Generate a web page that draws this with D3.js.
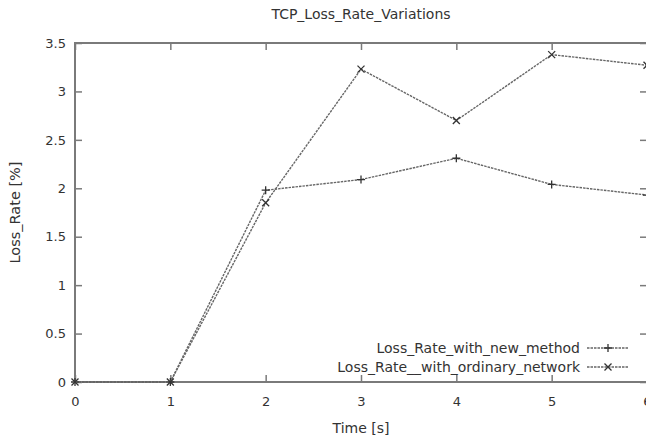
<!DOCTYPE html>
<html>
<head>
<meta charset="utf-8">
<script src="https://cdn.jsdelivr.net/npm/d3@7"></script>
<style>
  body { margin: 0; background: #fff; }
  svg { font-family: "DejaVu Sans", sans-serif; }
</style>
</head>
<body>
<svg id="chart" width="646" height="440"></svg>
<script>
// data
var times = [0, 1, 2, 3, 4, 5, 6]
var newMethod = [0, 0, 1.98, 2.09, 2.31, 2.04, 1.93]
var ordinary = [0, 0, 1.85, 3.23, 2.70, 3.38, 3.27]
var xTicks = [0, 1, 2, 3, 4, 5, 6]
var yTicks = [0, 0.5, 1, 1.5, 2, 2.5, 3, 3.5]
var seriesNames = ["Loss_Rate_with_new_method", "Loss_Rate__with_ordinary_network"]

var svg = d3.select("#chart")
var margin = { top: 43, right: -1, bottom: 58, left: 75 }
var width = 646, height = 440
var grey = "#7a7a7a"

var x = d3.scaleLinear().domain([0, 6]).range([margin.left, width - margin.right])
var y = d3.scaleLinear().domain([0, 3.5]).range([height - margin.bottom, margin.top])

// frame
svg.append("rect")
    .attr("x", x(0)).attr("y", y(3.5))
    .attr("width", x(6) - x(0)).attr("height", y(0) - y(3.5))
    .attr("fill", "none").attr("stroke", grey).attr("stroke-width", 2)

// axes (ticks pointing inward, mirrored on top/right)
var bottom = svg.append("g")
    .attr("transform", `translate(0,${y(0)})`)
    .call(d3.axisBottom(x).tickValues(xTicks).tickSize(-7).tickPadding(15).tickFormat(d3.format("d")))
var left = svg.append("g")
    .attr("transform", `translate(${x(0)},0)`)
    .call(d3.axisLeft(y).tickValues(yTicks).tickSize(-7).tickPadding(9).tickFormat(d => d))
var top_ = svg.append("g")
    .attr("transform", `translate(0,${y(3.5)})`)
    .call(d3.axisTop(x).tickValues(xTicks).tickSize(-7).tickFormat(""))
var right = svg.append("g")
    .attr("transform", `translate(${x(6)},0)`)
    .call(d3.axisRight(y).tickValues(yTicks).tickSize(-7).tickFormat(""))

;[bottom, left, top_, right].forEach(g => {
    g.select(".domain").remove()
    g.selectAll(".tick line").attr("stroke", grey).attr("stroke-width", 1.5)
    g.selectAll(".tick text").attr("fill", "#333").attr("font-size", 13)
        .attr("font-family", "DejaVu Sans, sans-serif")
})

// titles
svg.append("text")
    .attr("x", (x(0) + x(6)) / 2).attr("y", 19)
    .attr("text-anchor", "middle").attr("font-size", 14).attr("fill", "#333")
    .text("TCP_Loss_Rate_Variations")
svg.append("text")
    .attr("x", (x(0) + x(6)) / 2).attr("y", 433)
    .attr("text-anchor", "middle").attr("font-size", 14).attr("fill", "#333")
    .text("Time [s]")
svg.append("text")
    .attr("transform", `translate(20,${(y(0) + y(3.5)) / 2}) rotate(-90)`)
    .attr("text-anchor", "middle").attr("font-size", 14.5).attr("fill", "#333")
    .text("Loss_Rate [%]")

var line = d3.line().x(d => x(d[0])).y(d => y(d[1]))

function plus(g, cx, cy) {
    g.append("path")
        .attr("d", `M${cx - 4},${cy}H${cx + 4}M${cx},${cy - 4}V${cy + 4}`)
        .attr("stroke", "#333").attr("stroke-width", 1.3).attr("fill", "none")
}
function cross(g, cx, cy) {
    g.append("path")
        .attr("d", `M${cx - 3.5},${cy - 3.5}L${cx + 3.5},${cy + 3.5}M${cx - 3.5},${cy + 3.5}L${cx + 3.5},${cy - 3.5}`)
        .attr("stroke", "#333").attr("stroke-width", 1.3).attr("fill", "none")
}

var series = [
    { name: seriesNames[0], values: newMethod, marker: plus },
    { name: seriesNames[1], values: ordinary, marker: cross }
]

var plot = svg.append("g")
series.forEach(s => {
    var pts = times.map((t, i) => [t, s.values[i]])
    plot.append("path")
        .attr("d", line(pts))
        .attr("fill", "none").attr("stroke", "#666")
        .attr("stroke-width", 1.4).attr("stroke-dasharray", "2.5,1")
    pts.forEach(p => s.marker(plot, x(p[0]), y(p[1])))
})

// legend
var legend = svg.append("g")
series.forEach((s, i) => {
    var ly = 348 + i * 19
    legend.append("text")
        .attr("x", 580).attr("y", ly).attr("dy", "0.35em")
        .attr("text-anchor", "end").attr("font-size", 14).attr("fill", "#333")
        .text(s.name)
    legend.append("line")
        .attr("x1", 587).attr("x2", 629).attr("y1", ly).attr("y2", ly)
        .attr("stroke", "#666").attr("stroke-width", 1.3).attr("stroke-dasharray", "2.5,1")
    s.marker(legend, 608, ly)
})
</script>
</body>
</html>
